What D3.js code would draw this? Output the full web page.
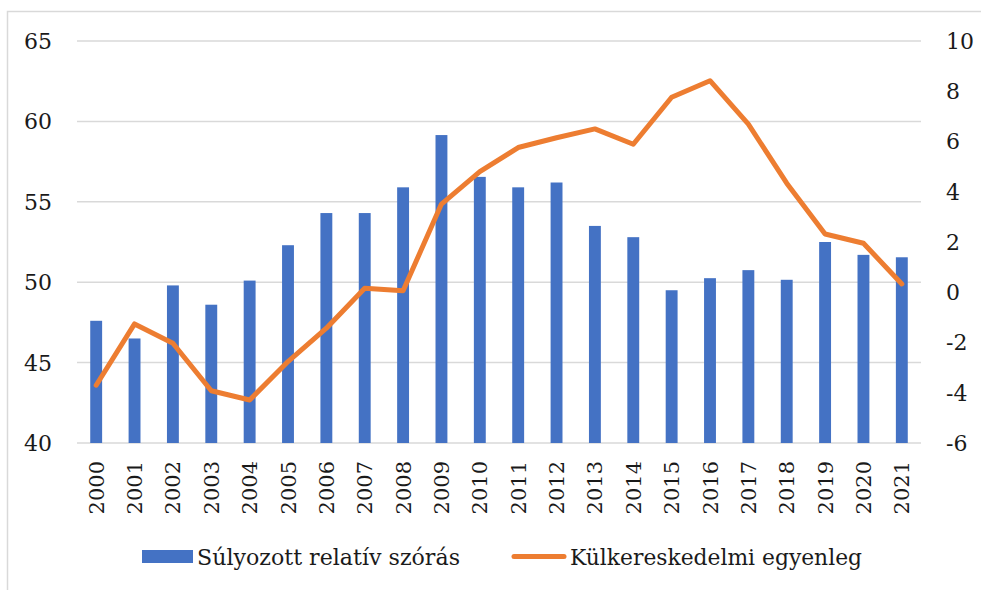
<!DOCTYPE html>
<html lang="hu">
<head>
  <meta charset="UTF-8">
  <title>Súlyozott relatív szórás és külkereskedelmi egyenleg</title>
  <script src="https://d3js.org/d3.v7.min.js"></script>
  <style type="text/css">
    body { margin: 0; background: #fff; }
  </style>
</head>
<body>
<script type="text/javascript">
  var years = ["2000","2001","2002","2003","2004","2005","2006","2007","2008","2009","2010",
               "2011","2012","2013","2014","2015","2016","2017","2018","2019","2020","2021"];
  var szoras = [47.6, 46.5, 49.8, 48.6, 50.1, 52.3, 54.3, 54.3, 55.9, 59.15, 56.55,
                55.9, 56.2, 53.5, 52.8, 49.5, 50.25, 50.75, 50.15, 52.5, 51.7, 51.55];
  var egyenleg = [-3.7, -1.26, -2.03, -3.92, -4.29, -2.76, -1.43, 0.16, 0.06, 3.51, 4.8,
                  5.76, 6.15, 6.5, 5.89, 7.76, 8.42, 6.69, 4.34, 2.32, 1.95, 0.33];
  var leftTicks = [40, 45, 50, 55, 60, 65];
  var rightTicks = [-6, -4, -2, 0, 2, 4, 6, 8, 10];
  var seriesNames = ["Súlyozott relatív szórás", "Külkereskedelmi egyenleg"];

  var width = 981, height = 590;
  var blue = "#4472C4", orange = "#ED7D31", grid = "#d9d9d9", ink = "#1a1a1a";
  var serif = "'DejaVu Serif', serif";

  var svg = d3.select("body").append("svg")
              .attr("width", width)
              .attr("height", height)
              .style("font-family", serif);

  // outer frame (only left and top visible)
  svg.append("path")
     .attr("d", "M7.5," + height + "V11.5H" + width)
     .attr("fill", "none")
     .attr("stroke", grid)
     .attr("stroke-width", 1.5);

  var x = d3.scaleBand().domain(years).range([77, 921]).paddingInner(0.69).paddingOuter(0.345);
  var yL = d3.scaleLinear().domain([40, 65]).range([443, 41]);
  var yR = d3.scaleLinear().domain([-6, 10]).range([443, 41]);

  // gridlines
  svg.append("g").selectAll("line")
     .data(leftTicks)
     .enter().append("line")
     .attr("x1", 77).attr("x2", 921)
     .attr("y1", function(d){ return yL(d); })
     .attr("y2", function(d){ return yL(d); })
     .attr("stroke", grid)
     .attr("stroke-width", 1.5);

  // left axis labels
  svg.append("g").selectAll("text")
     .data(leftTicks)
     .enter().append("text")
     .attr("x", 52)
     .attr("y", function(d){ return yL(d); })
     .attr("dy", "0.36em")
     .attr("text-anchor", "end")
     .attr("fill", ink)
     .style("font-size", "22px")
     .text(function(d){ return d; });

  // right axis labels
  svg.append("g").selectAll("text")
     .data(rightTicks)
     .enter().append("text")
     .attr("x", 946)
     .attr("y", function(d){ return yR(d); })
     .attr("dy", "0.36em")
     .attr("text-anchor", "start")
     .attr("fill", ink)
     .style("font-size", "22px")
     .text(function(d){ return d; });

  // bars
  svg.append("g").selectAll("rect")
     .data(szoras)
     .enter().append("rect")
     .attr("x", function(d, i){ return x(years[i]); })
     .attr("width", x.bandwidth())
     .attr("y", function(d){ return yL(d); })
     .attr("height", function(d){ return yL(40) - yL(d); })
     .attr("fill", blue);

  // line
  var line = d3.line()
     .x(function(d, i){ return x(years[i]) + x.bandwidth() / 2; })
     .y(function(d){ return yR(d); });

  svg.append("path")
     .datum(egyenleg)
     .attr("d", line)
     .attr("fill", "none")
     .attr("stroke", orange)
     .attr("stroke-width", 5)
     .attr("stroke-linejoin", "round")
     .attr("stroke-linecap", "round");

  // year labels
  svg.append("g").selectAll("text")
     .data(years)
     .enter().append("text")
     .attr("transform", function(d){
       return "translate(" + (x(d) + x.bandwidth() / 2) + ",461) rotate(-90)";
     })
     .attr("dy", "0.36em")
     .attr("text-anchor", "end")
     .attr("fill", ink)
     .style("font-size", "21px")
     .text(function(d){ return d; });

  // legend
  var leg = svg.append("g");
  leg.append("rect")
     .attr("x", 142).attr("y", 550)
     .attr("width", 51).attr("height", 13)
     .attr("fill", blue);
  leg.append("text")
     .attr("x", 197).attr("y", 557)
     .attr("dy", "0.36em")
     .attr("fill", ink)
     .attr("textLength", 263)
     .attr("lengthAdjust", "spacingAndGlyphs")
     .style("font-size", "22px")
     .text(seriesNames[0]);
  leg.append("line")
     .attr("x1", 514).attr("x2", 564)
     .attr("y1", 556.5).attr("y2", 556.5)
     .attr("stroke", orange)
     .attr("stroke-width", 5)
     .attr("stroke-linecap", "round");
  leg.append("text")
     .attr("x", 570).attr("y", 557)
     .attr("dy", "0.36em")
     .attr("fill", ink)
     .attr("textLength", 292)
     .attr("lengthAdjust", "spacingAndGlyphs")
     .style("font-size", "22px")
     .text(seriesNames[1]);
</script>
</body>
</html>
